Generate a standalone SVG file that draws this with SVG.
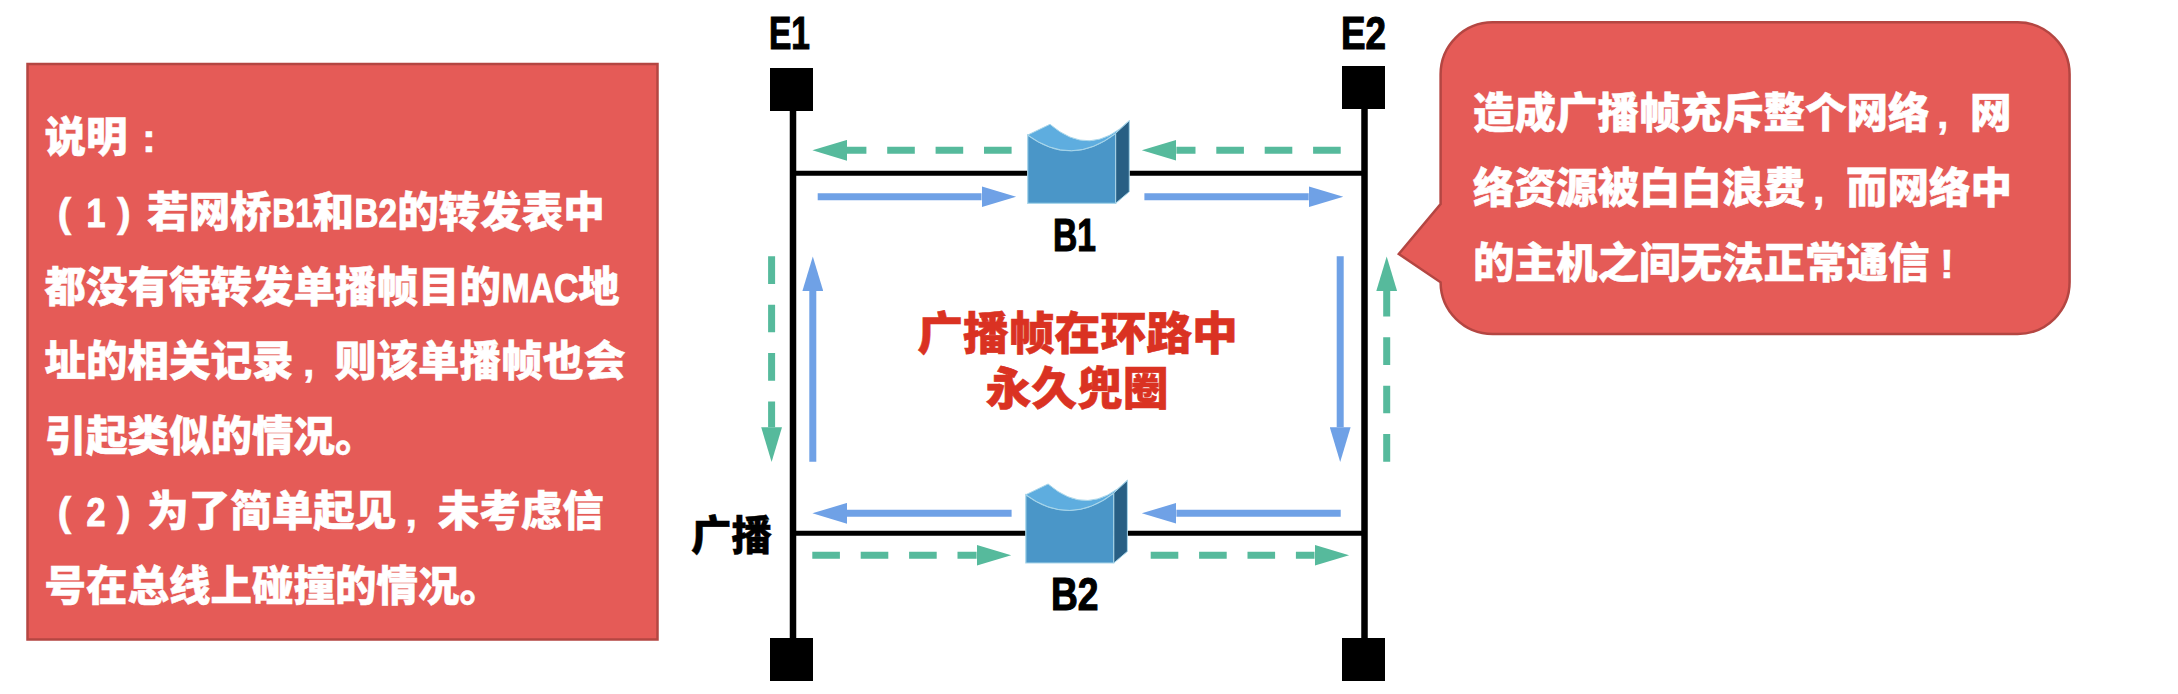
<svg xmlns="http://www.w3.org/2000/svg" width="2178" height="694" viewBox="0 0 2178 694">
<style>
text{font-family:"Liberation Sans","Noto Sans CJK SC",sans-serif;font-weight:700}
.w{fill:#fff;font-size:41.5px;font-weight:900;stroke:#fff;stroke-width:.5}
.l{stroke:#fff;stroke-width:1.1}
.k{fill:#000;font-size:46.8px;stroke:#000;stroke-width:1.2}
.c{fill:#000;font-size:40.5px;font-weight:900;stroke:#000;stroke-width:.5}
.r{fill:#DA3222;font-size:45.8px;text-anchor:middle;font-weight:900;stroke:#DA3222;stroke-width:.6}
.box{fill:#E55B57;stroke:#B44642;stroke-width:2.5}
.bus{stroke:#000;stroke-width:5;fill:none}
.vb{stroke:#000;stroke-width:6.5;fill:none}
.b{stroke:#6FA1E6;stroke-width:7;fill:none;marker-end:url(#hb)}
.g{stroke:#56BA9C;stroke-width:7;fill:none;stroke-dasharray:27.6 20.8;marker-end:url(#hg)}
.fr{fill:#4A96C8;stroke:#A9D6EA;stroke-width:1.2}
.tp{fill:#5EADDF;stroke:#A9D6EA;stroke-width:1}
.sd{fill:#285F84;stroke:#A9D6EA;stroke-width:1}
</style>
<defs>
<marker id="hb" markerUnits="userSpaceOnUse" markerWidth="35" markerHeight="21" refX="0" refY="10.4" orient="auto"><path d="M0 0L34.6 10.4L0 20.8Z" fill="#6FA1E6"/></marker>
<marker id="hg" markerUnits="userSpaceOnUse" markerWidth="35" markerHeight="21" refX="0" refY="10.4" orient="auto"><path d="M0 0L34.6 10.4L0 20.8Z" fill="#56BA9C"/></marker>
<g id="bridge-shape">
<path class="fr" d="M1027.7 135Q1071.7 167.3 1115.7 133.3L1115.7 203.3L1027.7 203.3Z"/>
<path class="tp" d="M1027.7 135L1050 124.3Q1090 159 1129.3 120.7L1115.7 133.3Q1071.7 167.3 1027.7 135Z"/>
<path class="sd" d="M1115.7 133.3L1129.3 120.7L1129.3 191.7L1115.7 203.3Z"/>
</g>
</defs>
<rect width="2178" height="694" fill="#fff"/>
<g id="note">
<rect class="box" x="27.5" y="64" width="630" height="575.5"/>
<text class="w" y="152"><tspan x="44.6">说明</tspan><tspan x="142">:</tspan></text>
<text class="w" y="227"><tspan x="57.6">(</tspan><tspan class="l" x="86.5" textLength="19" lengthAdjust="spacingAndGlyphs">1</tspan><tspan x="117">)</tspan><tspan x="147.3">若网桥</tspan><tspan class="l" x="272.3" textLength="40.5" lengthAdjust="spacingAndGlyphs">B1</tspan><tspan x="312.5">和</tspan><tspan class="l" x="354.5" textLength="42.5" lengthAdjust="spacingAndGlyphs">B2</tspan><tspan x="397.3">的转发表中</tspan></text>
<text class="w" y="301.7"><tspan x="44.6">都没有待转发单播帧目的</tspan><tspan class="l" x="501.5" textLength="77" lengthAdjust="spacingAndGlyphs">MAC</tspan><tspan x="578">地</tspan></text>
<text class="w" y="376.4"><tspan x="44.6">址的相关记录</tspan><tspan x="303">,</tspan><tspan x="335.1">则该单播帧也会</tspan></text>
<text class="w" y="451"><tspan x="44.6">引起类似的情况。</tspan></text>
<text class="w" y="526"><tspan x="57.6">(</tspan><tspan class="l" x="86.5" textLength="19" lengthAdjust="spacingAndGlyphs">2</tspan><tspan x="117">)</tspan><tspan x="147.3">为了简单起见</tspan><tspan x="405.5">,</tspan><tspan x="437.8">未考虑信</tspan></text>
<text class="w" y="600.6"><tspan x="44.6">号在总线上碰撞的情况。</tspan></text>
</g>
<g id="connectors">
<path class="vb" d="M793 111V638"/>
<path class="vb" d="M1364.5 109V638"/>
<path class="bus" d="M793 173.3H1030M1115 173.3H1364.5"/>
<path class="bus" d="M793 533.3H1030M1113 533.3H1364.5"/>
<path class="g" d="M1011.6 150.3H847"/>
<path class="g" d="M1340.7 150.3H1176.4"/>
<path class="b" d="M817.7 196.7H981.5"/>
<path class="b" d="M1144.4 196.7H1308.7"/>
<path class="g" d="M771.6 256.3V427.3"/>
<path class="b" d="M812.8 461.7V291"/>
<path class="b" d="M1340.2 256.3V427.3"/>
<path class="g" d="M1386.7 461.7V291"/>
<path class="b" d="M1011.6 513.3H847"/>
<path class="b" d="M1340.7 513.3H1176.4"/>
<path class="g" d="M812.3 555.3H976.6"/>
<path class="g" d="M1150.7 555.3H1314.5"/>
</g>
<g id="E1"><rect x="770" y="68" width="43" height="43"/><text class="k" x="769" y="49.3" textLength="41" lengthAdjust="spacingAndGlyphs">E1</text></g>
<g id="E2"><rect x="1342" y="66" width="43" height="43"/><text class="k" x="1341" y="49.3" textLength="45" lengthAdjust="spacingAndGlyphs">E2</text></g>
<g id="E3"><rect x="770" y="638" width="43" height="43"/></g>
<g id="E4"><rect x="1342" y="638" width="43" height="43"/></g>
<g id="B1"><use href="#bridge-shape"/><text class="k" x="1053" y="250.7" textLength="43" lengthAdjust="spacingAndGlyphs">B1</text></g>
<g id="B2"><use href="#bridge-shape" transform="translate(-1.9 359.7)"/><text class="k" x="1051" y="610" textLength="47.5" lengthAdjust="spacingAndGlyphs">B2</text></g>
<g id="broadcast-label"><text class="c" x="691" y="550">广播</text></g>
<g id="loop-label">
<text class="r" x="1077.5" y="350">广播帧在环路中</text>
<text class="r" x="1077" y="405">永久兜圈</text>
</g>
<g id="callout">
<path class="box" d="M1492.6 22.3H2017.6A52 52 0 0 1 2069.6 74.3V282A52 52 0 0 1 2017.6 334H1492.6A52 52 0 0 1 1440.6 282.3L1398.8 254L1440.6 204V74.3A52 52 0 0 1 1492.6 22.3Z"/>
<text class="w" y="128"><tspan x="1473">造成广播帧充斥整个网络</tspan><tspan x="1937">,</tspan><tspan x="1970">网</tspan></text>
<text class="w" y="202.5"><tspan x="1473">络资源被白白浪费</tspan><tspan x="1813">,</tspan><tspan x="1846">而网络中</tspan></text>
<text class="w" y="278"><tspan x="1473">的主机之间无法正常通信</tspan><tspan x="1940">!</tspan></text>
</g>
</svg>
